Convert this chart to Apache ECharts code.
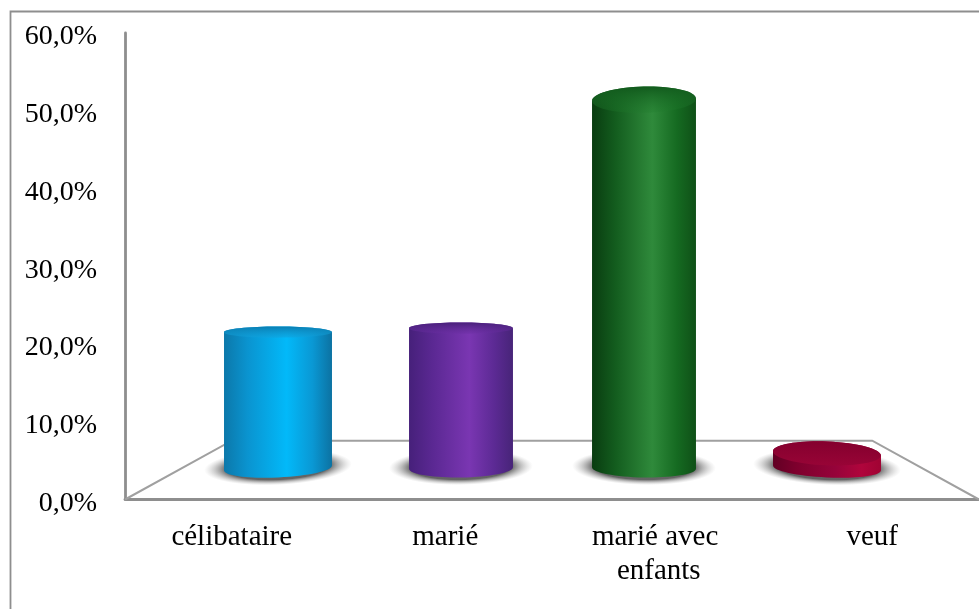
<!DOCTYPE html>
<html>
<head>
<meta charset="utf-8">
<style>html,body{margin:0;padding:0;background:#fff}#chart{width:979px;height:609px}</style>
<script src="https://cdn.jsdelivr.net/npm/echarts@6/dist/echarts.min.js"></script>
</head>
<body>
<div id="chart"></div>
<script>
// Situation familiale, in percent
const categories = ['célibataire', 'marié', 'marié avec enfants', 'veuf'];
const shares = [20.4, 21.0, 55.3, 2.2];
const tickStep = 10;
const tickMax = 60;

// Cylinder shading: [left edge, shoulder, highlight, shoulder, right edge, cap back, cap front]
const shadeBlue = ['#0c78aa', '#0a94d0', '#02b9f9', '#0a98d4', '#0c72a2', '#0a7eb2', '#12a2dc88'];
const shadePurple = ['#46207a', '#5a2892', '#7a36b2', '#5c2a94', '#472478', '#49207a', '#6a2ea266'];
const shadeGreen = ['#093c10', '#135c1e', '#2f8a3b', '#156a21', '#0f5017', '#125a1d', '#1f7a2c44'];
const shadeRed = ['#620024', '#7e002d', '#96033a', '#b0053c', '#a00333', '#84002e', '#980436ee'];
const shades = [shadeBlue, shadePurple, shadeGreen, shadeRed];

const serif = '"Liberation Serif", "Times New Roman", serif';
const lineGray = '#8e8e8e';

// Perspective of the floor: back edge relative to the front edge
const backRatio = 0.75;
const horizonRise = 235.5;   // front edge to horizon, px
const flattestRise = 138;    // height above the bars' base where the caps look flattest, px

function sideGradient(s) {
  return {
    type: 'linear', x: 0, y: 0, x2: 1, y2: 0,
    colorStops: [
      { offset: 0, color: s[0] }, { offset: 0.22, color: s[1] },
      { offset: 0.58, color: s[2] }, { offset: 0.82, color: s[3] },
      { offset: 1, color: s[4] }
    ]
  };
}

function renderFloor(params, api) {
  const g = params.coordSys;
  const front = g.y + g.height;
  const back = front - horizonRise * (1 - backRatio);
  const mid = g.x + g.width / 2;
  const half = g.width / 2 * backRatio;
  return {
    type: 'polyline',
    shape: { points: [[g.x, front], [mid - half, back], [mid + half, back], [g.x + g.width, front]] },
    style: { stroke: '#a0a0a0', lineWidth: 2, fill: null },
    silent: true
  };
}

function renderCylinder(params, api) {
  const i = api.value(0);
  const top = api.coord([i, api.value(1)]);
  const base = api.coord([i, 0]);
  const band = api.size([1, 0])[0];
  const g = params.coordSys;
  const cx = top[0];
  const outer = i === 0 || i === categories.length - 1;
  const rx = band * (outer ? 0.295 : 0.284);
  const flat = base[1] - flattestRise;
  const lift = top[1] - flat;
  const capRy = 5.5 + (lift < 0 ? 0.033 * -lift : 0.052 * lift);
  const baseRy = 9.5;
  const off = (cx - (g.x + g.width / 2)) / (g.width / 2);
  const capTilt = 0.06 * off * lift / flattestRise;
  const baseTilt = 0.06 * off;
  const s = shades[i];
  const shadowR = rx + 20;
  const body = {
    type: 'polygon',
    shape: {
      points: [
        [cx - rx, top[1] - capTilt * rx], [cx + rx, top[1] + capTilt * rx],
        [cx + rx, base[1] + baseTilt * rx], [cx - rx, base[1] - baseTilt * rx]
      ]
    },
    style: { fill: sideGradient(s) }
  };
  const tiltedEllipse = (y, ry, tilt, fill) => ({
    type: 'ellipse',
    x: cx, y: y, rotation: -tilt,
    shape: { cx: 0, cy: 0, rx: rx, ry: ry },
    style: { fill: fill }
  });
  return {
    type: 'group',
    children: [
      {
        type: 'circle',
        x: cx, y: base[1] - 1, rotation: -baseTilt, scaleY: 18 / shadowR,
        shape: { cx: 0, cy: 0, r: shadowR },
        style: {
          fill: {
            type: 'radial', x: 0.5, y: 0.5, r: 0.5,
            colorStops: [
              { offset: 0, color: 'rgba(95,95,95,1)' },
              { offset: 0.7, color: 'rgba(100,100,100,1)' },
              { offset: 1, color: 'rgba(190,190,190,0)' }
            ]
          }
        }
      },
      tiltedEllipse(base[1], baseRy, baseTilt, sideGradient(s)),
      body,
      tiltedEllipse(top[1], capRy, capTilt, sideGradient(s)),
      tiltedEllipse(top[1], capRy, capTilt, {
        type: 'linear', x: 0, y: 0, x2: 0, y2: 1,
        colorStops: [{ offset: 0, color: s[5] }, { offset: 1, color: s[6] }]
      })
    ]
  };
}

const chart = echarts.init(document.getElementById('chart'), null, { renderer: 'canvas' });
chart.setOption({
  animation: false,
  backgroundColor: '#fff',
  graphic: [{
    type: 'polyline',
    silent: true,
    shape: { points: [[10.5, 609], [10.5, 11.5], [979, 11.5]] },
    style: { stroke: lineGray, lineWidth: 1.8, fill: null }
  }],
  grid: [
    // Front plane, carrying the printed axes
    { left: 125, top: 33, width: 854, height: 466.5 },
    // Mid-depth plane in which the cylinders stand
    { left: 186.5, top: 68.4, width: 732, height: 399.6 }
  ],
  xAxis: [
    {
      type: 'category', gridIndex: 0, data: categories,
      axisTick: { show: false },
      axisLine: { lineStyle: { color: lineGray, width: 2.8 } },
      axisLabel: {
        interval: 0, color: '#000', fontFamily: serif, fontSize: 29,
        margin: 21, lineHeight: 34, width: 175, overflow: 'break', align: 'center'
      }
    },
    { type: 'category', gridIndex: 1, data: categories, show: false }
  ],
  yAxis: [
    {
      type: 'value', gridIndex: 0, min: 0, max: tickMax, interval: tickStep,
      splitLine: { show: false },
      axisTick: { show: false },
      axisLine: { show: true, lineStyle: { color: lineGray, width: 2.8 } },
      axisLabel: {
        margin: 28,
        formatter: v => '{t|' + v.toFixed(1).replace('.', ',') + '%}',
        rich: { t: { color: '#000', fontFamily: serif, fontSize: 28, lineHeight: 32, padding: [8, 0, 0, 0] } }
      }
    },
    { type: 'value', gridIndex: 1, min: 0, max: tickMax, interval: tickStep, show: false }
  ],
  series: [
    {
      type: 'custom', xAxisIndex: 0, yAxisIndex: 0, z: 1, silent: true,
      renderItem: renderFloor, data: [[0, 0]], encode: { x: 0, y: 1 }
    },
    {
      type: 'custom', xAxisIndex: 1, yAxisIndex: 1, z: 3, silent: true,
      renderItem: renderCylinder,
      data: categories.map((c, i) => [i, shares[i]]),
      encode: { x: 0, y: 1 }, clip: false
    }
  ]
});
</script>
</body>
</html>
